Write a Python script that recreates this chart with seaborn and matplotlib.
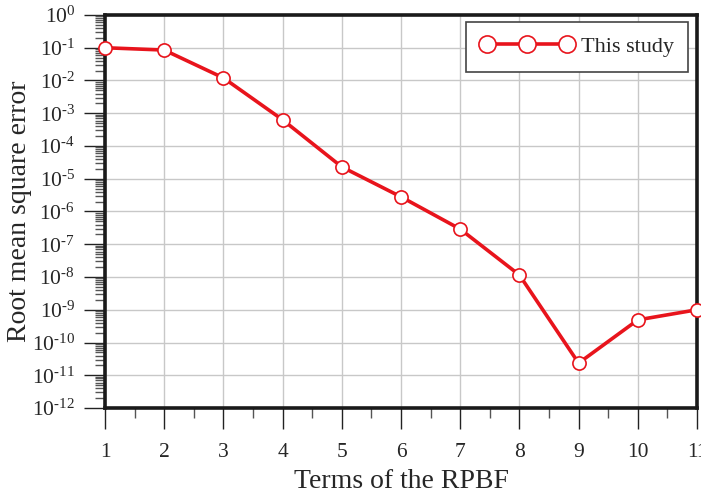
import math
import matplotlib
matplotlib.use("Agg")
import matplotlib.pyplot as plt
import matplotlib.ticker as mticker
import seaborn as sns
import pandas as pd

terms = [1, 2, 3, 4, 5, 6, 7, 8, 9, 10, 11]
rmse = [0.1, 0.085, 0.012, 6.3e-4, 2.3e-5, 2.8e-6, 2.9e-7, 1.15e-8, 2.35e-11, 4.9e-10, 1.0e-9]
series_label = "This study"
x_label = "Terms of the RPBF"
y_label = "Root mean square error"

sns.set_style("white")
plt.rcParams["font.family"] = ["Liberation Serif", "DejaVu Serif"]
plt.rcParams["mathtext.fontset"] = "custom"
plt.rcParams["mathtext.rm"] = "Liberation Serif"
plt.rcParams["mathtext.it"] = "Liberation Serif:italic"
plt.rcParams["mathtext.bf"] = "Liberation Serif:bold"

red = "#e8141c"
df = pd.DataFrame({"terms": terms, "rmse": rmse})

fig = plt.figure(figsize=(7.01, 4.93), dpi=100)
ax = fig.add_axes([0.1498, 0.1724, 0.8445, 0.7972])

sns.lineplot(data=df, x="terms", y="rmse", ax=ax, color=red, linewidth=2.6,
             marker="o", markersize=9.5, markerfacecolor="white",
             markeredgecolor=red, markeredgewidth=1.2, label=series_label,
             clip_on=False, zorder=5)

ax.set_yscale("log")
ax.set_xlim(1, 11)
ax.set_ylim(1e-12, 1)
ax.xaxis.set_major_locator(mticker.MultipleLocator(1))
ax.xaxis.set_minor_locator(mticker.MultipleLocator(0.5))
ax.yaxis.set_major_locator(mticker.LogLocator(base=10, numticks=20))
ax.yaxis.set_minor_locator(mticker.LogLocator(base=10, subs=range(2, 10), numticks=200))
ax.yaxis.set_minor_formatter(mticker.NullFormatter())


def fmt(v, p):
    e = round(math.log10(v))
    s = str(e).replace("-", "\u2010")
    return r"$\mathregular{10^{%s}}$" % s


ax.yaxis.set_major_formatter(mticker.FuncFormatter(fmt))

ax.grid(True, which="major", color="#c8c8c8", linewidth=1.0)
ax.set_axisbelow(True)

for s in ax.spines.values():
    s.set_linewidth(2.6)
    s.set_color("#1a1a1a")

ax.tick_params(axis="both", which="both", bottom=True, left=True, top=False, right=False)
ax.tick_params(axis="both", which="major", direction="out", length=15, width=1.0,
               color="#222222", labelsize=15.5, pad=6.5)
ax.tick_params(axis="both", which="minor", direction="out", length=7, width=1.0,
               color="#555555")
ax.tick_params(axis="x", which="major", pad=10.5)

ax.set_xlabel(x_label, fontsize=20, labelpad=5)
ax.set_ylabel(y_label, fontsize=20, labelpad=0)

leg = ax.legend(loc="upper right", numpoints=3, handlelength=4.2, fontsize=16,
                fancybox=False, framealpha=1, edgecolor="#444444",
                borderpad=0.65, handletextpad=0.3, borderaxespad=0,
                markerscale=1.3, bbox_to_anchor=(0.985, 0.982))
leg.get_frame().set_linewidth(1.2)

fig.savefig("out.png", dpi=100)
